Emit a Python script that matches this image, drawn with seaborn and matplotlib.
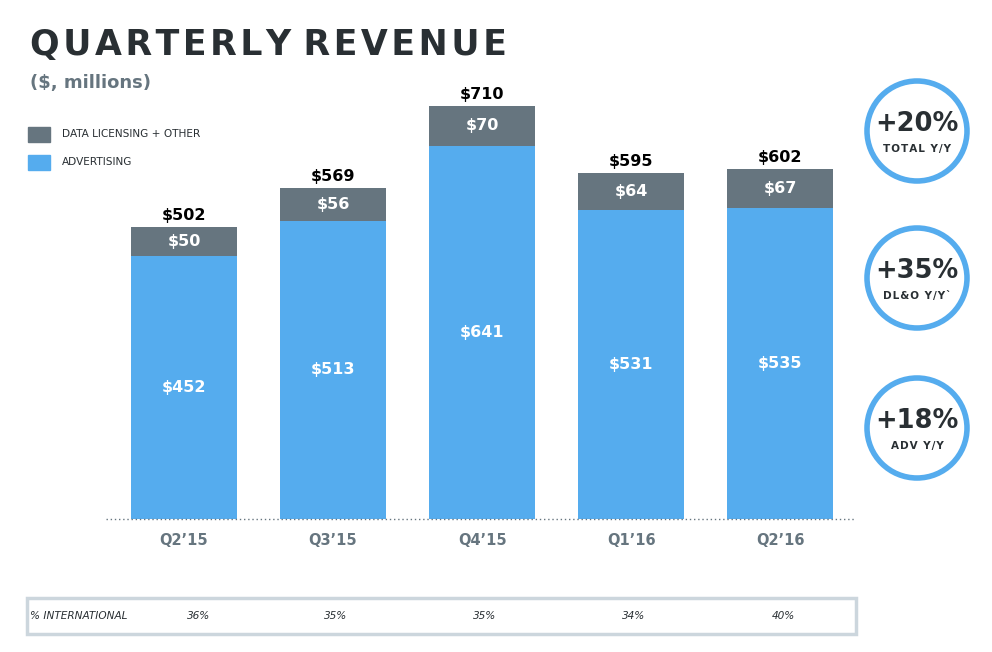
import matplotlib
matplotlib.use("Agg")
import matplotlib.pyplot as plt
import seaborn as sns
import pandas as pd
from matplotlib.patches import Rectangle, Circle

quarters = ["Q2\u201915", "Q3\u201915", "Q4\u201915", "Q1\u201916", "Q2\u201916"]
advertising = [452, 513, 641, 531, 535]
dlo = [50, 56, 70, 64, 67]
totals = [502, 569, 710, 595, 602]
international = ["36%", "35%", "35%", "34%", "40%"]
growth_values = ["+20%", "+35%", "+18%"]
growth_labels = ["TOTAL Y/Y", "DL&O Y/Y`", "ADV Y/Y"]

BLUE = "#55ACEE"
GRAY = "#66757F"
DARK = "#292F33"

sns.set_theme(style="white")
plt.rcParams["font.family"] = ["DejaVu Sans"]

df = pd.DataFrame({"quarter": quarters, "advertising": advertising,
                   "dlo": dlo, "total": totals})

fig = plt.figure(figsize=(9.92, 6.52), dpi=100)
ax = fig.add_axes([0.1069, 0.204, 0.862 - 0.1069, 0.9178 - 0.204])

sns.barplot(data=df, x="quarter", y="total", color=GRAY, width=0.715,
            saturation=1, ax=ax, edgecolor="none")
sns.barplot(data=df, x="quarter", y="advertising", color=BLUE, width=0.715,
            saturation=1, ax=ax, edgecolor="none")

ax.set_xlim(-0.523, 4.503)
ax.set_ylim(0, 800)
for s in ax.spines.values():
    s.set_visible(False)
ax.axhline(0, color="#66757F", lw=1, ls=(0, (1, 2)), clip_on=False)
ax.set_xlabel("")
ax.set_ylabel("")
ax.set_yticks([])
ax.tick_params(axis="x", length=0, pad=10, labelsize=10.5, labelcolor=GRAY)
for lbl in ax.get_xticklabels():
    lbl.set_fontweight("bold")

for i in range(len(quarters)):
    ax.text(i, totals[i] + 6, f"${totals[i]}", ha="center", va="bottom",
            fontsize=11.5, fontweight="bold", color="black")
    ax.text(i, advertising[i] + dlo[i] / 2, f"${dlo[i]}", ha="center", va="center",
            fontsize=11.5, fontweight="bold", color="white")
    ax.text(i, advertising[i] / 2, f"${advertising[i]}", ha="center", va="center",
            fontsize=11.5, fontweight="bold", color="white")

# Title and subtitle
title = "\u200a".join(list("QUARTERLY")) + " " + "\u200a".join(list("REVENUE"))
fig.text(30 / 992, 1 - 45 / 652, title, fontsize=25, fontweight="heavy",
         color=DARK, va="center", ha="left")
fig.text(30 / 992, 1 - 83 / 652, "($, millions)", fontsize=13, fontweight="bold",
         color=GRAY, va="center", ha="left")

# Legend
for (y, c, t) in [(134, GRAY, "DATA LICENSING + OTHER"), (162, BLUE, "ADVERTISING")]:
    fig.patches.append(Rectangle((28 / 992, 1 - (y + 7.5) / 652), 22 / 992, 15 / 652,
                                 transform=fig.transFigure, color=c))
    fig.text(62 / 992, 1 - y / 652, t, fontsize=7.6, color=DARK, va="center", ha="left")

# Growth circles
W, H = 992, 652
for cy, v, l in zip([131, 278, 428], growth_values, growth_labels):
    circ = Circle((917, H - cy), 50, transform=None, fill=False, ec=BLUE, lw=4)
    fig.patches.append(circ)
    fig.text(917 / W, 1 - (cy - 7) / H, v, fontsize=18.5, fontweight="bold", color=DARK,
             ha="center", va="center")
    fig.text(917 / W, 1 - (cy + 18) / H, "\u200a".join(list(l)), fontsize=7.5,
             fontweight="bold", color=DARK, ha="center", va="center")

# International table
fig.patches.append(Rectangle((27 / W, 1 - 634 / H), 829 / W, 36 / H,
                             transform=fig.transFigure, fill=False, ec="#CCD6DD", lw=2.5))
fig.text(30 / W, 1 - 616 / H, "% INTERNATIONAL", fontsize=7.6, style="italic",
         color=DARK, va="center", ha="left")
tr = matplotlib.transforms.blended_transform_factory(ax.transData, fig.transFigure)
for i, p in enumerate(international):
    ax.text(i + 0.08 * (i == 0) + 0.02, 1 - 616 / H, p, transform=tr, fontsize=7.6,
            style="italic", color=DARK, ha="center", va="center", clip_on=False)

fig.savefig("out.png", dpi=100)
